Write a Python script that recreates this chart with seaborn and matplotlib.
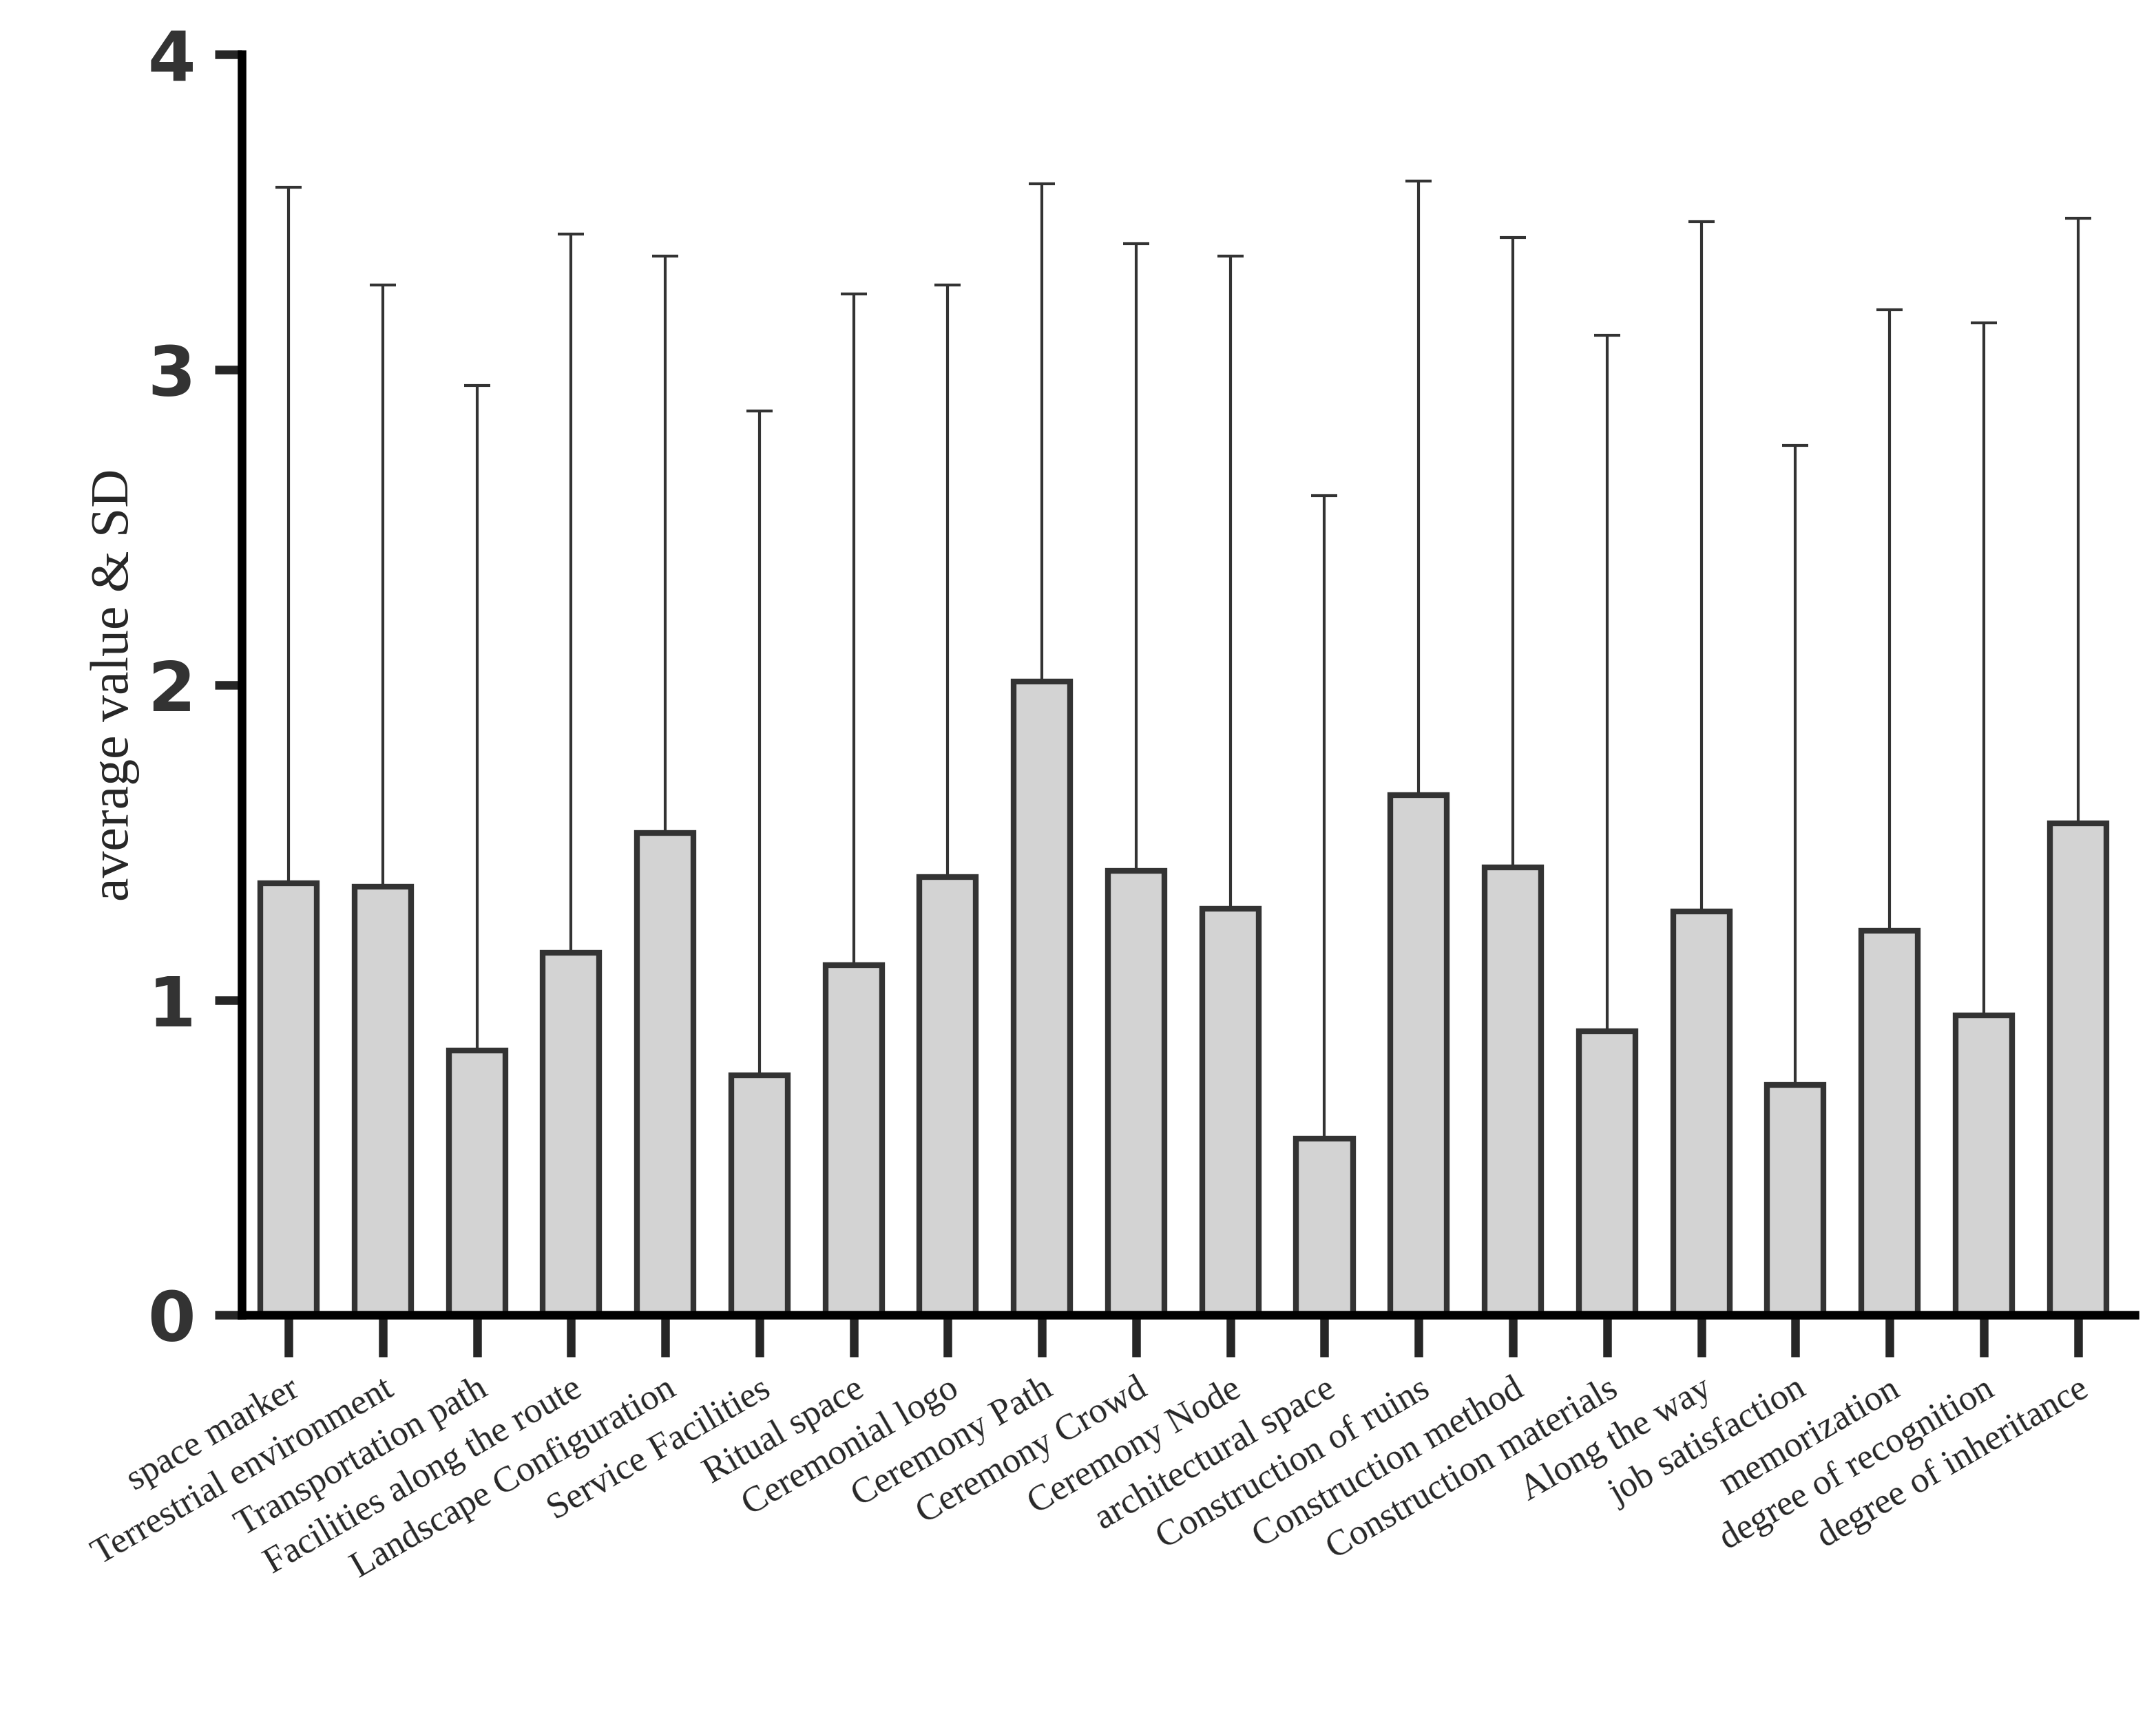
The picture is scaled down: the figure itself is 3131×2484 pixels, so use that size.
import pandas as pd
import seaborn as sns
import matplotlib.pyplot as plt

categories = ["space marker", "Terrestrial environment", "Transportation path",
              "Facilities along the route", "Landscape Configuration", "Service Facilities",
              "Ritual space", "Ceremonial logo", "Ceremony Path", "Ceremony Crowd",
              "Ceremony Node", "architectural space", "Construction of ruins",
              "Construction method", "Construction materials", "Along the way",
              "job satisfaction", "memorization", "degree of recognition",
              "degree of inheritance"]
means = [1.37, 1.36, 0.84, 1.15, 1.53, 0.76, 1.11, 1.39, 2.01, 1.41,
         1.29, 0.56, 1.65, 1.42, 0.90, 1.28, 0.73, 1.22, 0.95, 1.56]
sds = [2.21, 1.91, 2.11, 2.28, 1.83, 2.11, 2.13, 1.88, 1.58, 1.99,
       2.07, 2.04, 1.95, 2.00, 2.21, 2.19, 2.03, 1.97, 2.20, 1.92]

df = pd.DataFrame({"item": categories, "mean": means, "sd": sds})

sns.set_style("ticks")
fig = plt.figure(figsize=(15.655, 12.42), dpi=200)
ax = fig.add_axes([0.112, 0.231, 0.878, 0.737])

sns.barplot(data=df, x="item", y="mean", color="#d3d3d3", width=0.6,
            edgecolor="#333333", linewidth=3, saturation=1, ax=ax, zorder=2)
ax.errorbar(range(len(df)), df["mean"], yerr=[[0] * len(df), df["sd"]],
            fmt="none", ecolor="#333333", elinewidth=1.5, capsize=7,
            capthick=1.5, zorder=1)

ax.set_ylim(0, 4)
ax.set_xlim(-0.5, len(df) - 0.4)
ax.set_yticks([0, 1, 2, 3, 4])
sns.despine(ax=ax)
for s in ["left", "bottom"]:
    ax.spines[s].set_linewidth(4.5)
    ax.spines[s].set_color("black")
ax.tick_params(axis="y", length=14, width=4.5, labelsize=36, pad=10)
ax.tick_params(axis="x", length=22, width=4.5, pad=8)
for t in ax.get_yticklabels():
    t.set_fontweight("bold")
    t.set_color("#333333")
ax.set_xticks(range(len(df)))
ax.set_xticklabels(categories, rotation=30, ha="right", rotation_mode="anchor",
                   family="Liberation Serif", fontsize=19)
ax.set_xlabel("")
ax.set_ylabel("average value & SD", family="Liberation Serif", fontsize=28)

fig.savefig("out.png", dpi=200)
